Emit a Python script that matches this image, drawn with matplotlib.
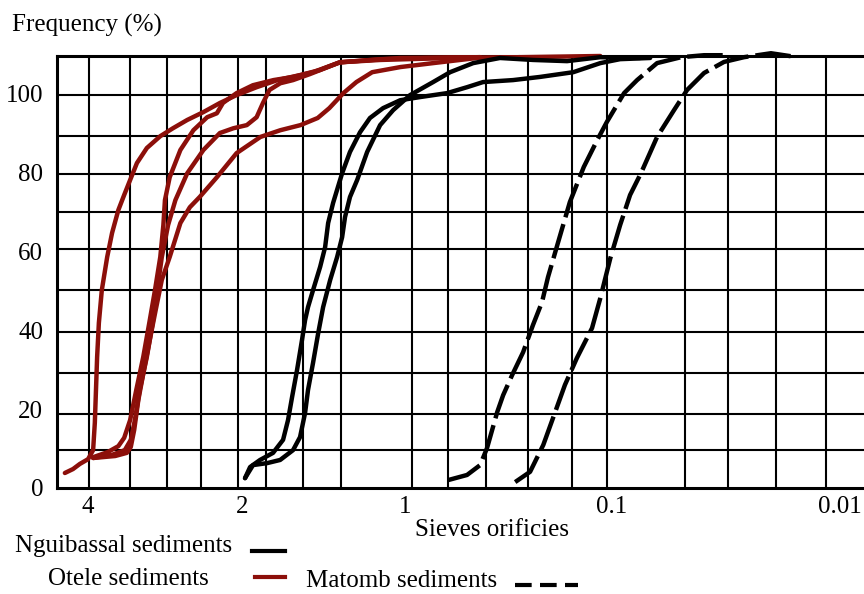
import numpy as np
import matplotlib.pyplot as plt
from matplotlib.lines import Line2D

plt.rcParams['font.family'] = ['Liberation Serif', 'DejaVu Serif']

# sieve opening (mm) -> cumulative frequency (%)
otele_1_x = [4.44, 4.28, 4.15, 4.00, 3.91, 3.88, 3.86, 3.84, 3.81, 3.76, 3.67, 3.59, 3.49, 3.40, 3.31, 3.21,
             3.07, 2.89, 2.73, 2.56, 2.38, 2.21, 2.05, 1.88, 1.72, 1.56, 1.44, 1.32, 1.11, 0.757, 0.434]
otele_1_y = [3.8, 4.8, 6.1, 7.3, 9.6, 16.5, 24.8, 33.2, 41.8, 50.1, 58.5, 64.6, 70.4, 74.2, 78.0, 82.3,
             86.1, 89.1, 91.1, 93.2, 95.2, 97.5, 99.5, 101.5, 103.3, 104.6, 105.8, 107.8, 108.6, 108.9, 109.1]
otele_2_x = [3.91, 3.66, 3.49, 3.40, 3.31, 3.22, 3.12, 3.03, 2.96, 2.89, 2.85, 2.83, 2.77, 2.64, 2.49, 2.34,
             2.24, 2.18, 2.05, 1.91, 1.75, 1.61, 1.48, 1.32, 1.11, 0.606, 0.278, 0.114]
otele_2_y = [7.8, 9.1, 10.6, 12.7, 17.2, 24.8, 33.2, 42.5, 50.1, 58.5, 66.6, 72.9, 78.7, 85.6, 90.6, 93.9,
             94.9, 97.5, 100.0, 102.0, 103.3, 104.1, 105.3, 107.8, 108.4, 108.9, 109.1, 109.4]
otele_3_x = [3.91, 3.59, 3.39, 3.30, 3.24, 3.17, 3.07, 2.99, 2.93, 2.87, 2.79, 2.70, 2.56, 2.38, 2.21, 2.08,
             1.96, 1.88, 1.83, 1.78, 1.70, 1.61, 1.50, 1.32, 1.02, 0.434]
otele_3_y = [7.6, 8.4, 9.6, 12.2, 17.2, 24.8, 33.2, 41.8, 50.1, 58.5, 66.6, 72.9, 79.7, 85.6, 89.9, 91.1,
             91.9, 93.9, 97.5, 100.8, 102.5, 103.3, 104.8, 107.8, 108.9, 109.1]
otele_4_x = [3.91, 3.54, 3.36, 3.30, 3.25, 3.19, 3.11, 3.03, 2.95, 2.87, 2.77, 2.64, 2.53, 2.42, 2.24, 2.05,
             1.85, 1.70, 1.56, 1.45, 1.38, 1.30, 1.23, 1.15, 1.02, 0.732, 0.449, 0.278]
otele_4_y = [7.6, 8.1, 8.9, 10.4, 14.7, 22.3, 29.9, 37.5, 45.1, 52.7, 58.5, 67.1, 71.1, 73.7, 78.7, 84.8,
             88.9, 90.6, 91.9, 93.7, 96.2, 100.0, 102.8, 105.3, 106.6, 107.6, 108.9, 109.1]

ngui_1_x = [1.975, 1.933, 1.853, 1.753, 1.680, 1.645, 1.617, 1.583, 1.550, 1.530, 1.511, 1.479, 1.435, 1.405,
            1.387, 1.358, 1.307, 1.264, 1.211, 1.161, 1.098, 1.021, 0.846, 0.627, 0.502, 0.420, 0.301, 0.223,
            0.154, 0.114, 0.0922, 0.0681]
ngui_1_y = [2.5, 5.3, 7.1, 8.9, 12.2, 17.2, 23.0, 29.9, 37.5, 42.5, 45.8, 50.1, 56.0, 61.0, 67.1, 72.2, 79.7,
            85.1, 90.1, 93.7, 96.2, 98.2, 99.0, 100.0, 101.5, 102.8, 103.3, 104.1, 105.3, 107.6, 108.6, 108.9]
ngui_2_x = [1.975, 1.909, 1.798, 1.701, 1.610, 1.563, 1.530, 1.511, 1.479, 1.447, 1.417, 1.375, 1.335, 1.307,
            1.291, 1.264, 1.226, 1.175, 1.112, 1.052, 0.946, 0.732, 0.606, 0.469, 0.348, 0.241, 0.165, 0.114,
            0.0754]
ngui_2_y = [2.5, 5.8, 6.3, 7.1, 9.6, 12.9, 19.0, 24.8, 31.7, 39.2, 45.8, 52.7, 58.5, 63.5, 68.6, 73.7, 78.0,
            85.1, 91.9, 95.7, 99.5, 102.8, 105.3, 107.6, 108.9, 108.4, 108.1, 109.1, 108.9]

matomb_1_x = [0.620, 0.502, 0.434, 0.402, 0.359, 0.336, 0.304, 0.269, 0.241, 0.218, 0.204, 0.184, 0.160, 0.137,
              0.118, 0.106, 0.0886, 0.0777, 0.0635, 0.0498, 0.0395, 0.0313]
matomb_1_y = [2.0, 3.3, 5.8, 10.1, 19.2, 23.5, 28.6, 34.4, 41.3, 47.1, 53.4, 61.5, 72.4, 81.3, 88.1, 92.7,
              100.0, 103.3, 107.6, 109.1, 109.6, 109.6]
matomb_2_x = [0.294, 0.249, 0.215, 0.193, 0.169, 0.148, 0.125, 0.114, 0.102, 0.0922, 0.0834, 0.0746, 0.0635,
              0.0535, 0.0469, 0.0395, 0.0323, 0.0264, 0.0201, 0.0154]
matomb_2_y = [1.5, 4.1, 10.9, 17.7, 26.1, 32.9, 40.5, 48.1, 58.2, 66.6, 74.2, 79.8, 88.9, 95.7, 100.8, 105.1,
              107.9, 109.1, 110.1, 109.1]

x_ticks = [4, 2, 1, 0.1, 0.01]
x_tick_labels = ['4', '2', '1', '0.1', '0.01']
y_ticks = [0, 20, 40, 60, 80, 100]

# graph paper lines (hand ruled, so not evenly spaced)
v_grid = [3.98, 3.31, 2.80, 2.405, 2.036, 1.806, 1.543, 1.313, 0.925, 0.620, 0.406, 0.2545, 0.156, 0.1057,
          0.0478, 0.0310, 0.0191, 0.01152]
h_grid = [9.6, 18.7, 29.1, 39.5, 50.1, 60.5, 69.9, 79.4, 89.2, 99.6]

# the printed sieve scale is log-like but each interval has its own width
LOG_ANCH = np.log10([0.001, 0.01, 0.1, 1, 2, 4, 10])
POS_ANCH = np.array([-1068, -840, -612, -405, -242, -88, 115.6])


def fwd(s):
    with np.errstate(divide='ignore', invalid='ignore'):
        lg = np.log10(np.asarray(s, dtype=float))
    return np.interp(lg, LOG_ANCH, POS_ANCH)


def inv(p):
    return 10 ** np.interp(p, POS_ANCH, LOG_ANCH)


red = '#8c0f0a'
fig = plt.figure(figsize=(8.64, 5.94), dpi=100)
ax = fig.add_axes([57 / 864, 1 - 488 / 594, 809 / 864, 432 / 594])
ax.set_xscale('function', functions=(fwd, inv))
ax.set_xlim(4.6, 0.0077)
ax.set_ylim(0, 109.4)

for v in v_grid:
    ax.axvline(v, color='black', lw=1.5, zorder=1)
for h in h_grid:
    ax.axhline(h, color='black', lw=1.5, zorder=1)

kw = dict(lw=3.2, solid_capstyle='round', solid_joinstyle='round', clip_on=False, zorder=3)
for xs, ys in [(otele_1_x, otele_1_y), (otele_2_x, otele_2_y), (otele_3_x, otele_3_y), (otele_4_x, otele_4_y)]:
    ax.plot(xs, ys, color=red, **kw)
for xs, ys in [(ngui_1_x, ngui_1_y), (ngui_2_x, ngui_2_y)]:
    ax.plot(xs, ys, color='black', **kw)
for xs, ys in [(matomb_1_x, matomb_1_y), (matomb_2_x, matomb_2_y)]:
    ax.plot(xs, ys, color='black', lw=3.2, ls=(0, (8, 1.6)), clip_on=False, zorder=3)

ax.set_xticks(x_ticks, x_tick_labels)
ax.set_yticks(y_ticks)
ax.minorticks_off()
ax.tick_params(axis='both', length=0, labelsize=18)
ax.tick_params(axis='x', pad=6)
ax.tick_params(axis='y', pad=10)
for side in ['top', 'left', 'bottom']:
    ax.spines[side].set_linewidth(2.2)
ax.spines['right'].set_visible(False)

fig.text(12 / 864, 1 - 25 / 594, 'Frequency (%)', fontsize=18, va='center', ha='left')
fig.text(492 / 864, 1 - 530 / 594, 'Sieves orificies', fontsize=18, va='center', ha='center')

# legend, drawn like the original: label first, line sample after it
fig.text(15 / 864, 1 - 546 / 594, 'Nguibassal sediments', fontsize=18, va='center', ha='left')
fig.add_artist(Line2D([252 / 864, 285 / 864], [1 - 551 / 594] * 2, color='black', lw=3))
fig.text(48 / 864, 1 - 579 / 594, 'Otele sediments', fontsize=18, va='center', ha='left')
fig.add_artist(Line2D([255 / 864, 285 / 864], [1 - 577 / 594] * 2, color=red, lw=3))
fig.text(306 / 864, 1 - 581 / 594, 'Matomb sediments', fontsize=18, va='center', ha='left')
fig.add_artist(Line2D([515 / 864, 578 / 864], [1 - 585 / 594] * 2, color='black', lw=3, ls=(0, (4, 2))))

fig.savefig('out.png', dpi=100)
